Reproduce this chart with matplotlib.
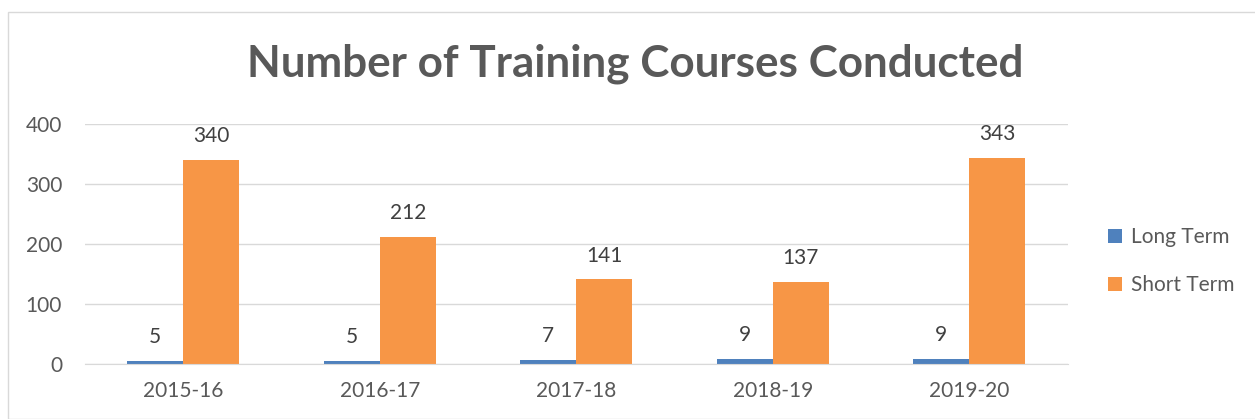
import matplotlib.pyplot as plt
import numpy as np
from matplotlib.patches import Rectangle

plt.rcParams['font.family'] = ['Lato', 'DejaVu Sans']

years = ["2015-16", "2016-17", "2017-18", "2018-19", "2019-20"]
long_term = [5, 5, 7, 9, 9]
short_term = [340, 212, 141, 137, 343]

blue = "#4F81BD"
orange = "#F79646"
grey = "#595959"

fig = plt.figure(figsize=(12.55, 4.19), dpi=100)
# outer chart border
fig.patches.append(Rectangle((8 / 1255, 0), 1.0, 1 - 12 / 419, transform=fig.transFigure,
                             fill=False, edgecolor="#D9D9D9", linewidth=1))
ax = fig.add_axes([85 / 1255, 1 - 364 / 419, (1067.5 - 85) / 1255, 240 / 419])

x = np.arange(len(years))
width = 0.285
b1 = ax.bar(x - width / 2, long_term, width, color=blue, label="Long Term")
b2 = ax.bar(x + width / 2, short_term, width, color=orange, label="Short Term")
ax.bar_label(b1, padding=10, fontsize=15, color="#404040")
ax.bar_label(b2, padding=10, fontsize=15, color="#404040")

ax.set_xlim(-0.5, len(years) - 0.5)
ax.set_ylim(0, 400)
ax.set_yticks([0, 100, 200, 300, 400])
ax.set_xticks(x, years)
ax.grid(axis="y", color="#D9D9D9", linewidth=1)
ax.set_axisbelow(True)
for s in ["top", "right", "left"]:
    ax.spines[s].set_visible(False)
ax.spines["bottom"].set_color("#D9D9D9")
ax.tick_params(axis="both", length=0, labelsize=15, labelcolor=grey)
ax.tick_params(axis="y", pad=16.5)
ax.tick_params(axis="x", pad=12)

fig.text(635 / 1255, 1 - 64 / 419, "Number of Training Courses Conducted",
         ha="center", va="center", fontsize=31.7, fontweight="bold", color=grey)

fig.legend(handles=[b1, b2], loc="center left", bbox_to_anchor=(1108 / 1255, 1 - 261 / 419),
           frameon=False, fontsize=15, labelcolor=grey, handlelength=0.65, handleheight=0.65,
           labelspacing=1.35, handletextpad=0.45, borderpad=0, borderaxespad=0)

fig.savefig("out.png", dpi=100)
